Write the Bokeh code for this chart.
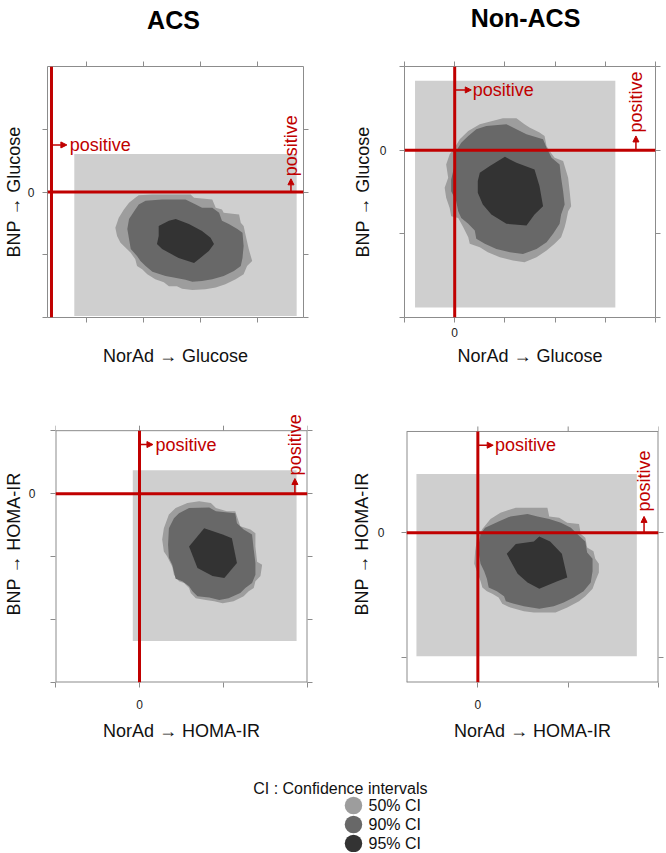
import numpy as np
from bokeh.plotting import figure
from bokeh.models import (Span, Label, Arrow, NormalHead, FixedTicker, LinearAxis, Range1d)
from bokeh.layouts import column, row
from bokeh.embed import file_html
from bokeh.resources import INLINE
from bokeh.core.properties import value

FONT = "Liberation Sans"
RED = "#c00000"
TICK = "#8c8c8c"
BOX_FILL = "#cfcfcf"
CI_COLORS = ["#9d9d9d", "#686868", "#333333"]
CI_LABELS = ["50% CI", "90% CI", "95% CI"]
LEGEND_TITLE = "CI : Confidence intervals"

# ---------------- data (tick units, red lines at 0) ----------------
# ACS, NorAd -> Glucose vs BNP -> Glucose
acs_glu_x50 = [1.53,1.77,2.00,2.44,2.50,2.82,2.88,2.99,3.02,3.29,3.32,3.37,3.40,3.46,3.52,3.43,3.37,3.23,3.05,2.88,
               2.70,2.47,2.29,2.20,2.06,1.97,1.82,1.68,1.59,1.50,1.47,1.39,1.30,1.21,1.15,1.12,1.18,1.27,1.36,1.47]
acs_glu_y50 = [-0.05,-0.04,-0.04,-0.04,-0.09,-0.12,-0.25,-0.28,-0.33,-0.36,-0.49,-0.54,-0.67,-0.91,-1.10,-1.18,-1.31,-1.39,-1.47,-1.52,
               -1.55,-1.56,-1.54,-1.50,-1.50,-1.44,-1.39,-1.31,-1.23,-1.18,-1.07,-0.97,-0.89,-0.81,-0.70,-0.57,-0.41,-0.28,-0.17,-0.09]
acs_glu_x90 = [1.65,1.94,2.35,2.53,2.64,2.82,2.94,2.99,3.11,3.26,3.35,3.37,3.35,3.32,3.20,3.02,
               2.82,2.64,2.47,2.35,2.12,2.00,1.77,1.65,1.56,1.50,1.39,1.36,1.33,1.36,1.47,1.53]
acs_glu_y90 = [-0.14,-0.12,-0.12,-0.20,-0.25,-0.25,-0.33,-0.46,-0.51,-0.59,-0.65,-0.86,-1.05,-1.18,-1.26,-1.34,
               -1.39,-1.42,-1.43,-1.40,-1.36,-1.34,-1.27,-1.18,-1.10,-1.02,-0.91,-0.75,-0.59,-0.43,-0.28,-0.20]
acs_glu_x95 = [1.88,2.06,2.18,2.41,2.64,2.79,2.85,2.76,2.61,2.50,2.23,2.06,1.94,1.85,1.88]
acs_glu_y95 = [-0.54,-0.46,-0.43,-0.51,-0.62,-0.73,-0.83,-0.94,-1.05,-1.13,-1.05,-0.97,-0.91,-0.83,-0.70]

# Non-ACS, NorAd -> Glucose vs BNP -> Glucose
non_glu_x50 = [0.50,0.96,1.23,1.39,1.49,1.69,1.79,1.83,1.89,1.99,2.16,2.19,2.26,2.29,2.32,2.26,2.22,2.19,2.12,1.99,1.83,
               1.63,1.39,1.16,0.90,0.66,0.50,0.30,0.27,0.17,0.07,-0.07,-0.10,-0.17,-0.20,-0.13,-0.17,-0.10,0.00,0.10,0.27]
non_glu_y50 = [0.31,0.38,0.38,0.31,0.27,0.21,0.17,0.05,-0.01,-0.09,-0.13,-0.19,-0.33,-0.49,-0.67,-0.73,-0.85,-0.92,-1.04,-1.12,-1.20,
               -1.28,-1.34,-1.32,-1.28,-1.22,-1.16,-1.12,-1.04,-0.92,-0.81,-0.79,-0.69,-0.57,-0.45,-0.33,-0.17,-0.05,0.03,0.13,0.23]
non_glu_x90 = [0.63,1.03,1.23,1.43,1.76,1.83,1.93,2.09,2.12,2.16,2.19,2.12,2.09,1.96,1.83,1.63,1.36,
               1.10,0.83,0.60,0.43,0.40,0.27,0.13,0.07,0.03,-0.07,-0.07,0.00,0.03,0.13,0.27,0.43]
non_glu_y90 = [0.29,0.31,0.25,0.19,0.13,0.03,-0.09,-0.17,-0.33,-0.49,-0.65,-0.77,-0.88,-1.00,-1.10,-1.18,-1.24,
               -1.22,-1.18,-1.12,-1.06,-0.96,-0.88,-0.81,-0.73,-0.61,-0.49,-0.35,-0.17,-0.01,0.09,0.17,0.25]
non_glu_x95 = [0.50,0.70,1.00,1.23,1.59,1.69,1.76,1.59,1.43,1.03,0.73,0.56,0.46,0.46]
non_glu_y95 = [-0.27,-0.19,-0.08,-0.15,-0.23,-0.43,-0.67,-0.77,-0.90,-0.88,-0.77,-0.65,-0.51,-0.37]

# ACS, NorAd -> HOMA-IR vs BNP -> HOMA-IR
acs_homa_x50 = [0.35,0.43,0.57,0.71,0.85,0.91,1.04,1.14,1.18,1.20,1.32,1.38,1.38,1.40,1.46,1.44,1.38,1.36,
                1.30,1.24,1.12,0.99,0.89,0.79,0.67,0.61,0.59,0.53,0.47,0.41,0.39,0.33,0.29,0.27,0.29]
acs_homa_y50 = [-0.33,-0.23,-0.15,-0.12,-0.15,-0.23,-0.28,-0.28,-0.44,-0.52,-0.57,-0.63,-0.84,-1.08,-1.13,-1.31,-1.39,-1.50,
                -1.55,-1.63,-1.71,-1.74,-1.71,-1.69,-1.66,-1.58,-1.50,-1.42,-1.39,-1.29,-1.16,-1.00,-0.92,-0.73,-0.55]
acs_homa_x90 = [0.41,0.47,0.59,0.83,0.91,1.14,1.16,1.24,1.34,1.36,1.38,1.38,1.34,1.26,
                1.20,1.06,0.95,0.83,0.69,0.63,0.59,0.51,0.43,0.41,0.39,0.35,0.34,0.35]
acs_homa_y90 = [-0.39,-0.31,-0.23,-0.22,-0.28,-0.31,-0.47,-0.57,-0.65,-0.89,-1.10,-1.29,-1.42,-1.50,
                -1.58,-1.66,-1.69,-1.65,-1.63,-1.55,-1.47,-1.39,-1.35,-1.24,-1.13,-1.02,-0.81,-0.55]
acs_homa_x95 = [0.59,0.77,0.99,1.10,1.16,1.01,0.87,0.69]
acs_homa_y95 = [-0.84,-0.55,-0.65,-0.71,-1.10,-1.34,-1.31,-1.18]

# Non-ACS, NorAd -> HOMA-IR vs BNP -> HOMA-IR
non_homa_x50 = [0.14,0.25,0.42,0.77,0.79,0.90,0.99,1.12,1.14,1.19,1.21,1.28,1.30,1.34,1.34,1.30,1.27,1.19,
                1.12,0.99,0.86,0.62,0.51,0.36,0.27,0.23,0.16,0.10,0.05,0.03,-0.01,-0.04,-0.03,-0.01,0.05]
non_homa_y50 = [0.11,0.16,0.20,0.20,0.13,0.12,0.08,0.07,-0.01,-0.04,-0.12,-0.15,-0.21,-0.25,-0.32,-0.39,-0.45,-0.51,
                -0.55,-0.60,-0.64,-0.64,-0.63,-0.60,-0.57,-0.52,-0.49,-0.47,-0.44,-0.39,-0.31,-0.25,-0.15,-0.05,0.03]
non_homa_x90 = [0.08,0.23,0.36,0.55,0.66,0.79,0.92,1.03,1.10,1.19,1.21,1.27,1.27,1.25,1.17,1.06,
                0.95,0.84,0.68,0.51,0.40,0.31,0.29,0.21,0.12,0.10,0.07,0.03,0.01,0.01,0.03]
non_homa_y90 = [0.04,0.09,0.13,0.15,0.13,0.11,0.08,0.04,-0.01,-0.07,-0.16,-0.21,-0.31,-0.40,-0.47,-0.52,
                -0.56,-0.59,-0.61,-0.59,-0.57,-0.55,-0.51,-0.47,-0.44,-0.37,-0.31,-0.25,-0.17,-0.09,-0.01]
non_homa_x95 = [0.32,0.42,0.62,0.68,0.80,0.93,0.99,0.88,0.68,0.55,0.44]
non_homa_y95 = [-0.17,-0.09,-0.07,-0.03,-0.07,-0.17,-0.36,-0.39,-0.45,-0.40,-0.33]

# light grey rectangles (left, right, bottom, top)
box_left = [0.40, -0.79, -0.08, -0.68]
box_right = [4.30, 3.20, 1.87, 1.76]
box_bottom = [-1.975, -1.88, -2.34, -0.99]
box_top = [0.605, 0.83, 0.37, 0.47]

# axis ranges and ticks
x_ranges = [(-0.07, 4.42), (-1.0, 4.0), (-1.0, 2.0), (-0.79, 2.0)]
y_ranges = [(-2.0, 2.0), (-2.0, 1.0), (-3.0, 1.0), (-1.2, 0.81)]
x_ticks = [[0.61, 1.61, 2.61, 3.61], [-1, 0, 1, 2, 3, 4], [-1, 0, 1, 2], [0, 1, 2]]
y_ticks = [[-2, -1, 0, 1], [-2, -1, 0, 1], [-3, -2, -1, 0, 1], [-1, 0]]

titles = ["ACS", "Non-ACS"]
x_labels = ["NorAd \u2192 Glucose", "NorAd \u2192 Glucose", "NorAd \u2192 HOMA-IR", "NorAd \u2192 HOMA-IR"]
y_labels = ["BNP \u2192 Glucose", "BNP \u2192 Glucose", "BNP \u2192 HOMA-IR", "BNP \u2192 HOMA-IR"]

contours = [
    [(acs_glu_x50, acs_glu_y50), (acs_glu_x90, acs_glu_y90), (acs_glu_x95, acs_glu_y95)],
    [(non_glu_x50, non_glu_y50), (non_glu_x90, non_glu_y90), (non_glu_x95, non_glu_y95)],
    [(acs_homa_x50, acs_homa_y50), (acs_homa_x90, acs_homa_y90), (acs_homa_x95, acs_homa_y95)],
    [(non_homa_x50, non_homa_y50), (non_homa_x90, non_homa_y90), (non_homa_x95, non_homa_y95)],
]

# ---------------- layout / style (not data) ----------------
PAGE_W = 664
HEADER_H = 40
TITLE_POS = [(173, 19), (525, 17)]          # header canvas px
# pad: extra room (data units) above the box so a rotated label can overflow the box top
LAYOUT = [
    dict(width=322, height=333, left=47, right=19, top=26, bottom=56, pad=0,
         xmls=5, xals=23, ymls=8, yals=1),
    dict(width=342, height=333, left=82, right=9, top=26, bottom=56, pad=0,
         xmls=5, xals=6, ymls=13, yals=4),
    dict(width=322, height=375, left=55, right=15, top=32, bottom=66, pad=0.4,
         xmls=12, xals=9, ymls=15, yals=2),
    dict(width=342, height=375, left=84, right=6, top=32, bottom=66, pad=0.208,
         xmls=12, xals=9, ymls=17, yals=3),
]
# "positive" markers: horizontal (y, arrow end x, text x) and vertical (x, arrow end y, text y)
POS = [
    dict(hy=0.75, hxa=0.27, hxt=0.32, vx=4.20, vya=0.21, vyt=0.25),
    dict(hy=0.72, hxa=0.33, hxt=0.36, vx=3.61, vya=0.17, vyt=0.21),
    dict(hy=0.78, hxa=0.16, hxt=0.19, vx=1.85, vya=0.24, vyt=0.29),
    dict(hy=0.70, hxa=0.17, hxt=0.19, vx=1.84, vya=0.13, vyt=0.17),
]
LEG_H = 104
LEG_TITLE_POS = (252.7, 40)
LEG_X, LEG_Y0, LEG_DY, LEG_SIZE, LEG_TEXT_X = 353, 57, 19, 17.5, 368


def make_panel(i):
    lay = LAYOUT[i]
    xlo, xhi = x_ranges[i]
    ylo, yhi = y_ranges[i]
    pad = lay["pad"]
    p = figure(width=lay["width"], height=lay["height"],
               x_range=Range1d(xlo, xhi), y_range=Range1d(ylo, yhi + pad),
               output_backend="svg", toolbar_location=None,
               x_axis_location=None, y_axis_location=None,
               min_border_left=lay["left"], min_border_right=lay["right"],
               min_border_top=lay["top"], min_border_bottom=lay["bottom"])
    p.grid.visible = False
    p.background_fill_color = "white"
    p.border_fill_color = "white"

    common = dict(axis_line_color=None, major_tick_line_color=TICK, major_tick_out=5, major_tick_in=0,
                  minor_tick_line_color=None, major_label_text_font=FONT, major_label_text_font_size="12px",
                  major_label_text_color="#222222", axis_label_text_font=FONT,
                  axis_label_text_font_size="18px", axis_label_text_font_style="normal",
                  axis_label_text_color="#111111")
    xt, yt = x_ticks[i], y_ticks[i]
    xb = LinearAxis(ticker=FixedTicker(ticks=xt), axis_label=x_labels[i],
                    major_label_overrides={t: "" for t in xt if t != 0},
                    major_label_standoff=lay["xmls"], axis_label_standoff=lay["xals"], **common)
    yl = LinearAxis(ticker=FixedTicker(ticks=yt), axis_label=y_labels[i],
                    major_label_overrides={t: "" for t in yt if t != 0},
                    major_label_standoff=lay["ymls"], axis_label_standoff=lay["yals"], **common)
    yr = LinearAxis(ticker=FixedTicker(ticks=yt), major_label_overrides={t: "" for t in yt},
                    major_label_standoff=0, **common)
    p.add_layout(xb, "below")
    p.add_layout(yl, "left")
    p.add_layout(yr, "right")

    # light grey rectangle
    p.quad(left=[box_left[i]], right=[box_right[i]], bottom=[box_bottom[i]], top=[box_top[i]],
           fill_color=BOX_FILL, line_color=None)
    # confidence regions
    for (xs, ys), col in zip(contours[i], CI_COLORS):
        p.patch(xs, ys, fill_color=col, line_color=None)

    if pad == 0:
        p.outline_line_color = TICK
        p.outline_line_width = 1
        xa = LinearAxis(ticker=FixedTicker(ticks=xt), major_label_overrides={t: "" for t in xt},
                        major_label_standoff=0, **common)
        p.add_layout(xa, "above")
        p.add_layout(Span(location=0, dimension="height", line_color=RED, line_width=3))
    else:
        # box edges and top ticks drawn at the top of the axis range
        p.outline_line_color = None
        p.segment(x0=[xlo, xhi, xlo], y0=[ylo, ylo, ylo], x1=[xlo, xhi, xhi], y1=[yhi, yhi, ylo],
                  line_color=TICK, line_width=2)
        p.segment(x0=[xlo], y0=[yhi], x1=[xhi], y1=[yhi], line_color=TICK, line_width=1)
        frame_h = lay["height"] - lay["top"] - lay["bottom"]
        tick_len = 5 * (yhi + pad - ylo) / frame_h
        p.segment(x0=xt, y0=[yhi] * len(xt), x1=xt, y1=[yhi + tick_len] * len(xt),
                  line_color=TICK, line_width=1)
        p.segment(x0=[0], y0=[ylo], x1=[0], y1=[yhi], line_color=RED, line_width=3)

    p.add_layout(Span(location=0, dimension="width", line_color=RED, line_width=3))

    pos = POS[i]
    p.add_layout(Arrow(end=NormalHead(size=6, fill_color=RED, line_color=RED, line_width=1),
                       x_start=0, y_start=pos["hy"], x_end=pos["hxa"], y_end=pos["hy"],
                       line_color=RED, line_width=1.5))
    p.add_layout(Label(x=pos["hxt"], y=pos["hy"], text="positive", text_align="left",
                       text_baseline="middle", text_color=RED, text_font=FONT,
                       text_font_size="18px"))
    p.add_layout(Arrow(end=NormalHead(size=6, fill_color=RED, line_color=RED, line_width=1),
                       x_start=pos["vx"], y_start=0, x_end=pos["vx"], y_end=pos["vya"],
                       line_color=RED, line_width=1.5))
    p.add_layout(Label(x=pos["vx"], y=pos["vyt"], text="positive", angle=np.pi / 2,
                       text_align="left", text_baseline="middle", text_color=RED,
                       text_font=FONT, text_font_size="18px"))
    return p


def blank_fig(h):
    f = figure(width=PAGE_W, height=h, x_range=Range1d(0, PAGE_W), y_range=Range1d(h, 0),
               output_backend="svg", toolbar_location=None, min_border=0,
               x_axis_location=None, y_axis_location=None)
    f.grid.visible = False
    f.outline_line_color = None
    return f


# column titles
hdr = blank_fig(HEADER_H)
hdr.text(x=[q[0] for q in TITLE_POS], y=[q[1] for q in TITLE_POS], text=titles,
         text_font=value(FONT), text_font_size="25px", text_font_style="bold",
         text_align="center", text_baseline="middle", text_color="black")

panels = [make_panel(i) for i in range(4)]

# legend
leg = blank_fig(LEG_H)
leg.text(x=[LEG_TITLE_POS[0]], y=[LEG_TITLE_POS[1]], text=[LEGEND_TITLE], text_font=value(FONT),
         text_font_size="16px", text_baseline="middle", text_align="left", text_color="#111111")
leg_y = [LEG_Y0 + LEG_DY * k for k in range(len(CI_LABELS))]
leg.scatter(x=[LEG_X] * len(CI_LABELS), y=leg_y, size=LEG_SIZE, fill_color=CI_COLORS, line_color=None)
leg.text(x=[LEG_TEXT_X] * len(CI_LABELS), y=leg_y, text=CI_LABELS, text_font=value(FONT),
         text_font_size="16px", text_baseline="middle", text_align="left", text_color="#111111")

layout = column(hdr, row(panels[0], panels[1]), row(panels[2], panels[3]), leg)
open("out.html", "w").write(file_html(layout, INLINE))
